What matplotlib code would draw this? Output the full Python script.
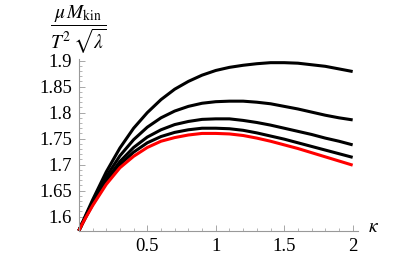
import numpy as np
import matplotlib
matplotlib.use("Agg")
import matplotlib.pyplot as plt
from matplotlib.ticker import MultipleLocator

plt.rcParams['font.family'] = ['Liberation Serif', 'DejaVu Serif']
plt.rcParams['mathtext.fontset'] = 'stix'

# kappa grid and curve values
kappa = [0.0, 0.025, 0.05, 0.1, 0.2, 0.3, 0.4, 0.5, 0.6, 0.7, 0.8, 0.9, 1.0,
         1.1, 1.2, 1.3, 1.4, 1.5, 1.6, 1.7, 1.8, 1.9, 2.0]
curve_1 = [1.573, 1.588, 1.603, 1.632, 1.686, 1.732, 1.770, 1.800, 1.825, 1.845, 1.860, 1.872, 1.881,
           1.887, 1.891, 1.894, 1.896, 1.896, 1.895, 1.892, 1.889, 1.884, 1.879]
curve_2 = [1.573, 1.587, 1.601, 1.628, 1.677, 1.717, 1.748, 1.772, 1.790, 1.803, 1.812, 1.818, 1.821,
           1.822, 1.822, 1.820, 1.817, 1.812, 1.807, 1.801, 1.795, 1.790, 1.786]
curve_3 = [1.573, 1.587, 1.600, 1.625, 1.670, 1.706, 1.733, 1.753, 1.767, 1.777, 1.783, 1.787, 1.788,
           1.788, 1.785, 1.781, 1.776, 1.770, 1.764, 1.758, 1.751, 1.745, 1.738]
curve_4 = [1.573, 1.586, 1.599, 1.623, 1.666, 1.700, 1.724, 1.742, 1.754, 1.762, 1.767, 1.770, 1.770,
           1.769, 1.766, 1.761, 1.755, 1.749, 1.742, 1.735, 1.728, 1.721, 1.714]
curve_red = [1.573, 1.586, 1.598, 1.621, 1.662, 1.694, 1.716, 1.733, 1.745, 1.752, 1.757, 1.760, 1.760,
             1.759, 1.756, 1.751, 1.745, 1.738, 1.731, 1.723, 1.715, 1.707, 1.699]

y_ticks = [1.6, 1.65, 1.7, 1.75, 1.8, 1.85, 1.9]
y_labels = ["1.6", "1.65", "1.7", "1.75", "1.8", "1.85", "1.9"]
x_ticks = [0.5, 1.0, 1.5, 2.0]
x_labels = ["0.5", "1", "1.5", "2"]

fig = plt.figure(figsize=(4.15, 2.57), dpi=100)
ax = fig.add_axes([0.190, 0.1023, 0.673, 0.667])

for c in [curve_1, curve_2, curve_3, curve_4]:
    ax.plot(kappa, c, color="black", lw=2.2, solid_capstyle="butt", clip_on=False)
ax.plot(kappa, curve_red, color="red", lw=2.2, solid_capstyle="butt", clip_on=False)

ax.set_xlim(0, 2.04)
ax.set_ylim(1.573, 1.9025)

# mathematica-like axes
for s in ["top", "right"]:
    ax.spines[s].set_visible(False)
for s in ["left", "bottom"]:
    ax.spines[s].set_color("#999999")
    ax.spines[s].set_linewidth(0.8)

ax.set_xticks(x_ticks)
ax.set_xticklabels(x_labels)
ax.set_yticks(y_ticks)
ax.set_yticklabels(y_labels)
ax.xaxis.set_minor_locator(MultipleLocator(0.1))
ax.yaxis.set_minor_locator(MultipleLocator(0.01))
ax.tick_params(which="major", direction="in", length=4, width=0.6, color="#999999",
               labelsize=13.5, pad=5)
ax.tick_params(which="minor", direction="in", length=2, width=0.5, color="#999999")

ax.text(1.035, 0.02, r"$\kappa$", transform=ax.transAxes, fontsize=14,
        ha="left", va="center")
fig.text(0.19, 0.985, r"$\dfrac{\mu\, M_{\mathrm{kin}}}{T^2\,\sqrt{\lambda}}$",
         fontsize=14, ha="center", va="top")

fig.savefig("out.png", dpi=100)
